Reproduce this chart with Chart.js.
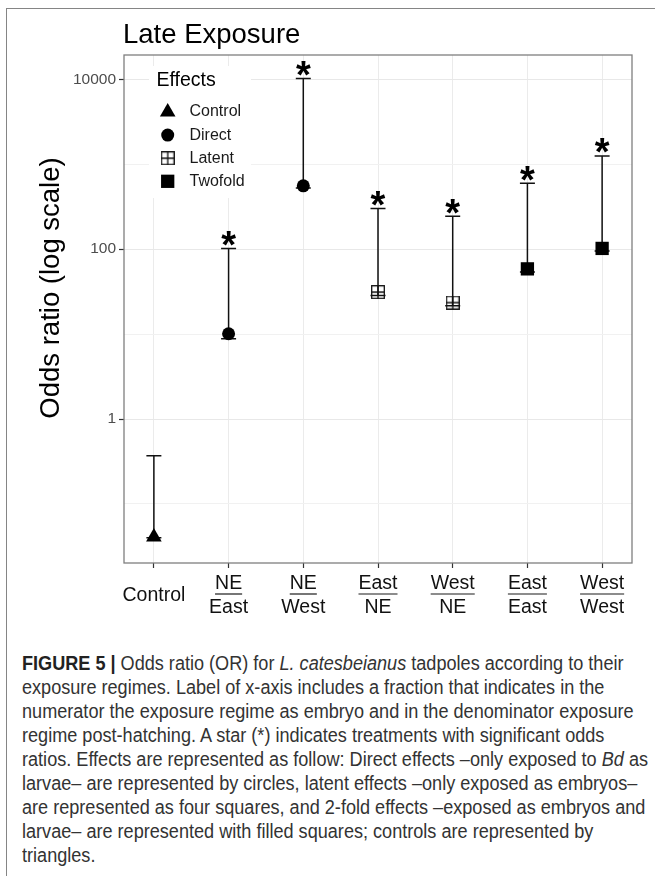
<!DOCTYPE html>
<html><head><meta charset="utf-8">
<script src="https://cdn.jsdelivr.net/npm/chart.js@4.4.1/dist/chart.umd.min.js"></script>
<style>
html,body{margin:0;padding:0;background:#fff;width:655px;height:876px;overflow:hidden;position:relative;}
#frame{position:absolute;left:6px;top:8px;width:700px;height:900px;border-left:1.5px solid #858585;border-top:1.5px solid #858585;}
#wrap{position:absolute;left:0;top:0;width:655px;height:640px;}
#caption{position:absolute;left:22px;top:651px;font-family:"Liberation Sans Narrow","Liberation Sans",Arial,sans-serif;font-size:20px;line-height:24px;color:#333;white-space:nowrap;transform-origin:0 0;}
#caption b{color:#222;}
</style></head><body>
<div id="frame"></div>
<div id="wrap"><canvas id="c" width="655" height="640"></canvas></div>
<div id="caption">
<div class="ln"><b>FIGURE 5 |</b> Odds ratio (OR) for <i>L. catesbeianus</i> tadpoles according to their</div>
<div class="ln">exposure regimes. Label of x-axis includes a fraction that indicates in the</div>
<div class="ln">numerator the exposure regime as embryo and in the denominator exposure</div>
<div class="ln">regime post-hatching. A star (*) indicates treatments with significant odds</div>
<div class="ln">ratios. Effects are represented as follow: Direct effects –only exposed to <i>Bd</i> as</div>
<div class="ln">larvae– are represented by circles, latent effects –only exposed as embryos–</div>
<div class="ln">are represented as four squares, and 2-fold effects –exposed as embryos and</div>
<div class="ln">larvae– are represented with filled squares; controls are represented by</div>
<div class="ln">triangles.</div>
</div>
<script>
// ---- data ----
const categories = [["Control"], ["NE", "East"], ["NE", "West"], ["East", "NE"], ["West", "NE"], ["East", "East"], ["West", "West"]];
const effectOf = ["Control", "Direct", "Direct", "Latent", "Latent", "Twofold", "Twofold"];
const oddsRatio = [0.041, 10.1, 556, 31.2, 23.5, 58.6, 102];
const ciLower = [0.040, 8.8, 525, 28.5, 21.5, 54, 95];
const ciUpper = [0.37, 102, 10200, 300, 244, 597, 1253];
const significant = [false, true, true, true, true, true, true];
const effects = ["Control", "Direct", "Latent", "Twofold"];
const yMajorTicks = [1, 100, 10000];
const yMinorTicks = [0.1, 10, 1000];
const titleText = "Late Exposure";
const yTitle = "Odds ratio (log scale)";
const legendTitle = "Effects";

const FONT = '"Liberation Sans", Arial, Helvetica, sans-serif';

function latentSymbol(size) {
  const c = document.createElement('canvas');
  c.width = size; c.height = size;
  const g = c.getContext('2d');
  g.strokeStyle = '#111'; g.lineWidth = 1.3;
  const a = 0.7, b = size - 0.7, m = size / 2;
  g.strokeRect(a, a, b - a, b - a);
  g.beginPath(); g.moveTo(m, a); g.lineTo(m, b); g.moveTo(a, m); g.lineTo(b, m); g.stroke();
  return c;
}
const styles = {
  Control: { pointStyle: 'triangle', radius: 9 },
  Direct: { pointStyle: 'circle', radius: 6.5 },
  Latent: { pointStyle: latentSymbol(14), radius: 7 },
  Twofold: { pointStyle: 'rect', radius: 9.4 }
};

const datasets = effects.map(e => ({
  label: e,
  data: categories.map((c, i) => effectOf[i] === e ? { x: i, y: oddsRatio[i] } : null).filter(Boolean),
  pointStyle: styles[e].pointStyle,
  pointRadius: styles[e].radius,
  pointHoverRadius: styles[e].radius,
  backgroundColor: '#000',
  borderColor: '#000',
  pointBorderWidth: 0,
  showLine: false
}));

const errorBars = {
  id: 'errorBars',
  beforeDatasetsDraw(chart) {
    const { ctx, chartArea: ca, scales: { x, y } } = chart;
    ctx.save();
    // panel border
    ctx.strokeStyle = '#7f7f7f'; ctx.lineWidth = 1.3;
    ctx.strokeRect(ca.left, ca.top, ca.right - ca.left, ca.bottom - ca.top);
    ctx.strokeStyle = '#111'; ctx.lineWidth = 1.5;
    categories.forEach((c, i) => {
      const px = x.getPixelForValue(i);
      const yl = y.getPixelForValue(ciLower[i]);
      const yu = y.getPixelForValue(ciUpper[i]);
      ctx.beginPath();
      ctx.moveTo(px, yl); ctx.lineTo(px, yu);
      ctx.moveTo(px - 7.5, yu); ctx.lineTo(px + 7.5, yu);
      ctx.moveTo(px - 7.5, yl); ctx.lineTo(px + 7.5, yl);
      ctx.stroke();
      if (significant[i]) {
        ctx.fillStyle = '#000';
        ctx.font = 'bold 38px ' + FONT;
        ctx.textAlign = 'center'; ctx.textBaseline = 'alphabetic';
        ctx.fillText('*', px, yu + 9.5);
      }
    });
    ctx.restore();
  },
  afterDraw(chart) {
    const { ctx, chartArea: ca, scales: { x } } = chart;
    ctx.save();
    // title
    ctx.fillStyle = '#000';
    ctx.font = '27.5px ' + FONT;
    ctx.textAlign = 'left'; ctx.textBaseline = 'middle';
    ctx.fillText(titleText, ca.left - 1, 35);
    // y axis title
    ctx.save();
    ctx.translate(51, 288);
    ctx.rotate(-Math.PI / 2);
    ctx.font = '27.5px ' + FONT;
    ctx.textAlign = 'center'; ctx.textBaseline = 'middle';
    ctx.fillText(yTitle, 0, 0);
    ctx.restore();
    // underline numerators on x labels
    ctx.font = '19.5px ' + FONT;
    ctx.strokeStyle = '#1a1a1a'; ctx.lineWidth = 1.2;
    categories.forEach((c, i) => {
      if (c.length < 2) return;
      const px = x.getPixelForValue(i);
      const w = ctx.measureText(c[0]).width;
      const uy = x.top + 31;
      ctx.beginPath(); ctx.moveTo(px - w / 2, uy); ctx.lineTo(px + w / 2, uy); ctx.stroke();
    });
    // legend
    ctx.fillStyle = '#fff';
    ctx.fillRect(149, 66, 102, 132);
    ctx.fillStyle = '#000';
    ctx.font = '19.5px ' + FONT;
    ctx.textAlign = 'left'; ctx.textBaseline = 'middle';
    ctx.fillText(legendTitle, 156.5, 81);
    ctx.font = '16px ' + FONT;
    effects.forEach((e, k) => {
      const yy = 112 + k * 23.1;
      const st = styles[e];
      ctx.fillStyle = '#000'; ctx.strokeStyle = '#000'; ctx.lineWidth = 0;
      Chart.helpers.drawPoint(ctx, { pointStyle: st.pointStyle, radius: st.radius, borderWidth: 0, rotation: 0 }, 167.7, yy);
      ctx.fillStyle = '#1a1a1a';
      ctx.fillText(e, 189.5, yy);
    });
    ctx.restore();
  }
};

new Chart(document.getElementById('c'), {
  type: 'scatter',
  data: { datasets },
  plugins: [errorBars],
  options: {
    responsive: false,
    animation: false,
    events: [],
    layout: { padding: { left: 0, top: 55, right: 23, bottom: 0 } },
    plugins: { legend: { display: false }, tooltip: { enabled: false }, title: { display: false } },
    scales: {
      x: {
        type: 'linear', min: -0.4, max: 6.4,
        afterBuildTicks(s) { s.ticks = categories.map((c, i) => ({ value: i })); },
        afterFit(s) { s.height = 77; },
        ticks: {
          callback: (v) => categories[v],
          font: { family: FONT, size: 19.5 }, color: '#111',
          crossAlign: 'center', padding: 16, maxRotation: 0, autoSkip: false
        },
        grid: { color: '#ebebeb', lineWidth: 1, tickLength: 5, tickColor: '#333', tickWidth: 1.2 },
        border: { display: false }
      },
      y: {
        type: 'logarithmic', min: 0.0202, max: 19300,
        afterBuildTicks(s) { s.ticks = [...yMinorTicks, ...yMajorTicks].sort((a, b) => a - b).map(v => ({ value: v })); },
        afterFit(s) { s.width = 124; },
        ticks: {
          callback: (v) => yMajorTicks.includes(v) ? String(v) : '',
          font: { family: FONT, size: 15.5 }, color: '#4d4d4d', padding: 3, autoSkip: false
        },
        grid: {
          color: (c) => yMajorTicks.includes(c.tick.value) ? '#e8e8e8' : '#f1f1f1',
          lineWidth: 1, tickLength: 5,
          tickColor: (c) => yMajorTicks.includes(c.tick.value) ? '#333' : 'rgba(0,0,0,0)', tickWidth: 1.2
        },
        border: { display: false },
        title: { display: false }
      }
    }
  }
});

// fit caption width
(function () {
  const cap = document.getElementById('caption');
  let maxW = 0;
  cap.querySelectorAll('.ln').forEach(l => { l.style.display = 'inline-block'; maxW = Math.max(maxW, l.getBoundingClientRect().width); l.style.display = 'block'; });
  if (maxW > 0) cap.style.transform = 'scaleX(' + (626 / maxW) + ')';
})();
</script>
</body></html>
